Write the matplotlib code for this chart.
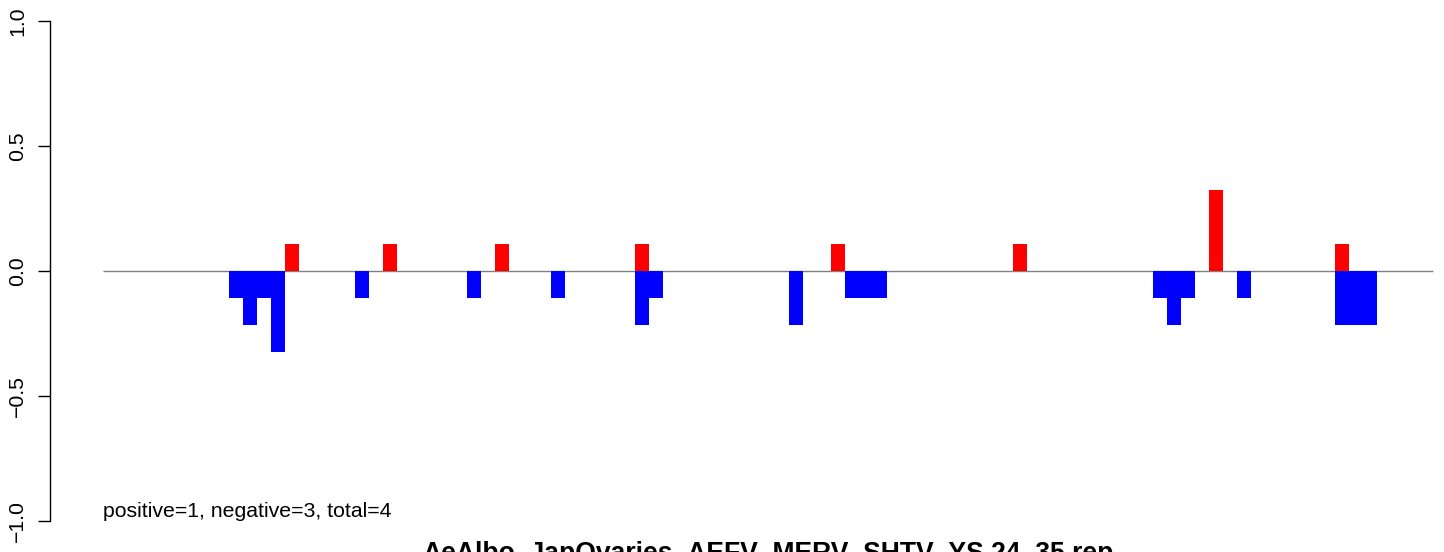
import matplotlib
matplotlib.use("Agg")
import matplotlib.pyplot as plt

pos_cols = [13, 20, 28, 38, 52, 65, 79, 88]
pos_vals = [0.108, 0.108, 0.108, 0.108, 0.108, 0.108, 0.324, 0.108]

neg_cols = [9, 10, 11, 12, 18, 26, 32, 38, 39, 49, 53, 54, 55,
            75, 76, 77, 81, 88, 89, 90]
neg_vals = [-0.108, -0.216, -0.108, -0.324, -0.108, -0.108, -0.108,
            -0.216, -0.108, -0.216, -0.108, -0.108, -0.108,
            -0.108, -0.216, -0.108, -0.108, -0.216, -0.216, -0.216]

n_cols = 95
y_ticks = [-1.0, -0.5, 0.0, 0.5, 1.0]
y_labels = ["\u22121.0", "\u22120.5", "0.0", "0.5", "1.0"]
note = "positive=1, negative=3, total=4"
title = "AeAlbo_JapOvaries_AEFV_MERV_SHTV_YS.24_35.rep"

plt.rcParams["font.family"] = ["Liberation Sans", "DejaVu Sans"]

W, H = 1444, 552
fig = plt.figure(figsize=(W / 100, H / 100), dpi=100)
ax = fig.add_axes([50 / W, (H - 541) / H, 1436 / W, 540 / H])

ax.hlines(0, 0, n_cols, color="#808080", lw=1.0, zorder=1)
ax.bar(neg_cols, neg_vals, width=1, align="edge", color="#0000ff",
       linewidth=0, zorder=2)
ax.bar(pos_cols, pos_vals, width=1, align="edge", color="#ff0000",
       linewidth=0, zorder=2)

ax.set_xlim(-3.8, 98.8)
ax.set_ylim(-1.08, 1.08)

for s in ["top", "right", "bottom"]:
    ax.spines[s].set_visible(False)
ax.spines["left"].set_bounds(-1, 1)
ax.spines["left"].set_linewidth(1.0)
ax.set_xticks([])
ax.set_yticks(y_ticks)
ax.set_yticklabels(y_labels, rotation=90, va="center", fontsize=15.3)
ax.tick_params(axis="y", length=8.6, width=1.0, pad=8)

ax.text(0, -0.984, note, fontsize=15.3, ha="left", va="baseline")

# title sits at the bottom edge, cut off as in the source image
fig.text(768 / W, (H - 561) / H, title, fontsize=19.1, fontweight="bold",
         ha="center", va="baseline")

fig.savefig("out.png", dpi=100)
